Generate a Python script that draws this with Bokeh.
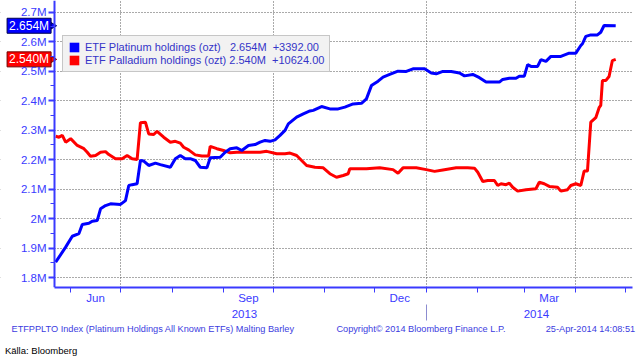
import math
import pandas as pd
from bokeh.plotting import figure
from bokeh.models import (ColumnDataSource, FixedTicker, CustomJSTickFormatter, LinearAxis,
                          Legend, LegendItem, Range1d, Grid)
from bokeh.core.properties import value
from bokeh.embed import file_html
from bokeh.resources import INLINE

# ---------------- data (millions of troy ounces) ----------------
plat_dates = ["2013-05-23", "2013-05-29", "2013-06-02", "2013-06-06", "2013-06-08", "2013-06-12",
              "2013-06-14", "2013-06-17", "2013-06-19", "2013-06-22", "2013-06-25", "2013-07-01",
              "2013-07-04", "2013-07-06", "2013-07-08", "2013-07-11", "2013-07-13", "2013-07-15",
              "2013-07-18", "2013-07-22", "2013-07-25", "2013-07-31", "2013-08-03", "2013-08-06",
              "2013-08-09", "2013-08-12", "2013-08-15", "2013-08-18", "2013-08-22", "2013-08-24",
              "2013-08-30", "2013-09-02", "2013-09-05", "2013-09-09", "2013-09-12", "2013-09-16",
              "2013-09-20", "2013-09-23", "2013-09-26", "2013-09-29", "2013-10-02", "2013-10-05",
              "2013-10-08", "2013-10-10", "2013-10-15", "2013-10-19", "2013-10-23", "2013-10-25",
              "2013-10-30", "2013-11-04", "2013-11-09", "2013-11-13", "2013-11-18", "2013-11-23",
              "2013-11-26", "2013-11-29", "2013-12-03", "2013-12-06", "2013-12-10", "2013-12-15",
              "2013-12-20", "2013-12-24", "2013-12-31", "2014-01-04", "2014-01-07", "2014-01-11",
              "2014-01-16", "2014-01-21", "2014-01-24", "2014-01-29", "2014-02-02", "2014-02-06",
              "2014-02-14", "2014-02-16", "2014-02-20", "2014-02-24", "2014-02-26", "2014-03-01",
              "2014-03-03", "2014-03-05", "2014-03-09", "2014-03-11", "2014-03-14", "2014-03-17",
              "2014-03-23", "2014-03-28", "2014-04-01", "2014-04-04", "2014-04-05", "2014-04-07",
              "2014-04-10", "2014-04-14", "2014-04-16", "2014-04-18", "2014-04-25"]
plat_vals = [1.852, 1.903, 1.940, 1.949, 1.980, 1.984,
             1.991, 1.993, 2.033, 2.044, 2.050, 2.048,
             2.061, 2.112, 2.115, 2.118, 2.197, 2.195,
             2.180, 2.188, 2.183, 2.174, 2.203, 2.214,
             2.203, 2.203, 2.197, 2.174, 2.172, 2.206,
             2.208, 2.225, 2.237, 2.240, 2.231, 2.248,
             2.251, 2.259, 2.265, 2.262, 2.267, 2.282,
             2.299, 2.321, 2.344, 2.355, 2.365, 2.367,
             2.380, 2.372, 2.372, 2.378, 2.389, 2.391,
             2.406, 2.451, 2.466, 2.480, 2.489, 2.500,
             2.499, 2.508, 2.508, 2.494, 2.491, 2.499,
             2.499, 2.494, 2.484, 2.489, 2.478, 2.463,
             2.463, 2.472, 2.476, 2.476, 2.483, 2.483,
             2.522, 2.516, 2.516, 2.539, 2.533, 2.550,
             2.550, 2.561, 2.561, 2.587, 2.593, 2.618,
             2.623, 2.623, 2.632, 2.655, 2.654]

pall_dates = ["2013-05-23", "2013-05-25", "2013-05-27", "2013-05-29", "2013-06-01", "2013-06-05",
              "2013-06-09", "2013-06-11", "2013-06-13", "2013-06-16", "2013-06-19", "2013-06-22",
              "2013-06-24", "2013-06-28", "2013-07-02", "2013-07-05", "2013-07-08", "2013-07-11",
              "2013-07-13", "2013-07-16", "2013-07-18", "2013-07-21", "2013-07-23", "2013-07-27",
              "2013-07-31", "2013-08-03", "2013-08-06", "2013-08-08", "2013-08-11", "2013-08-15",
              "2013-08-19", "2013-08-23", "2013-08-24", "2013-08-28", "2013-09-01", "2013-09-05",
              "2013-09-09", "2013-09-23", "2013-09-27", "2013-10-03", "2013-10-08", "2013-10-11",
              "2013-10-15", "2013-10-18", "2013-10-21", "2013-10-26", "2013-10-31", "2013-11-04",
              "2013-11-08", "2013-11-12", "2013-11-15", "2013-11-16", "2013-11-26", "2013-12-04",
              "2013-12-12", "2013-12-15", "2013-12-18", "2013-12-26", "2014-01-01", "2014-01-06",
              "2014-01-11", "2014-01-19", "2014-01-26", "2014-01-30", "2014-02-01", "2014-02-04",
              "2014-02-07", "2014-02-11", "2014-02-13", "2014-02-15", "2014-02-18", "2014-02-20",
              "2014-02-22", "2014-02-25", "2014-03-02", "2014-03-08", "2014-03-10", "2014-03-13",
              "2014-03-16", "2014-03-21", "2014-03-23", "2014-03-27", "2014-03-29", "2014-04-01",
              "2014-04-04", "2014-04-06", "2014-04-08", "2014-04-10", "2014-04-13", "2014-04-15",
              "2014-04-16", "2014-04-17", "2014-04-19", "2014-04-21", "2014-04-23", "2014-04-25"]
pall_vals = [2.279, 2.276, 2.282, 2.259, 2.271, 2.248,
             2.237, 2.225, 2.211, 2.214, 2.225, 2.227,
             2.217, 2.203, 2.203, 2.214, 2.203, 2.200,
             2.325, 2.327, 2.287, 2.285, 2.296, 2.276,
             2.259, 2.262, 2.256, 2.242, 2.233, 2.216,
             2.212, 2.212, 2.245, 2.237, 2.231, 2.223,
             2.225, 2.225, 2.228, 2.220, 2.220, 2.222,
             2.214, 2.197, 2.180, 2.174, 2.172, 2.152,
             2.140, 2.146, 2.152, 2.169, 2.169, 2.172,
             2.166, 2.154, 2.172, 2.172, 2.166, 2.160,
             2.165, 2.172, 2.172, 2.171, 2.157, 2.126,
             2.129, 2.129, 2.112, 2.118, 2.115, 2.120,
             2.106, 2.093, 2.098, 2.101, 2.123, 2.118,
             2.109, 2.106, 2.093, 2.098, 2.112, 2.118,
             2.112, 2.161, 2.161, 2.327, 2.342, 2.376,
             2.384, 2.468, 2.468, 2.482, 2.536, 2.540]

series_names = ["ETF Platinum holdings (ozt)", "ETF Palladium holdings (ozt)"]
last_values = ["2.654M", "2.540M"]
changes = ["+3392.00", "+10624.00"]

y_ticks = [1.8, 1.9, 2.0, 2.1, 2.2, 2.3, 2.4, 2.5, 2.6, 2.7]
y_minor = [1.85, 1.95, 2.05, 2.15, 2.25, 2.35, 2.45, 2.55, 2.65]
month_tick_dates = ["2013-06-01", "2013-07-01", "2013-08-01", "2013-09-01", "2013-10-01",
                    "2013-11-01", "2013-12-01", "2014-01-01", "2014-02-01", "2014-03-01",
                    "2014-04-01", "2014-05-01"]
month_label_dates = ["2013-06-16", "2013-09-16", "2013-12-16", "2014-03-16"]
month_labels = ["Jun", "Sep", "Dec", "Mar"]
quarter_dates = ["2013-07-01", "2013-10-01", "2014-01-01", "2014-04-01"]
year_label_dates = ["2013-09-13 14:00", "2014-03-08 07:00"]
year_labels = ["2013", "2014"]
year_break = ["2014-01-01"]

footer_texts = ["ETFPPLTO Index (Platinum Holdings All Known ETFs) Malting Barley",
                "Copyright\u00a9 2014 Bloomberg Finance L.P.",
                "25-Apr-2014 14:08:51"]
footer_dates = ["2013-07-20 14:00", "2013-12-28 19:00", "2014-04-09 19:00"]
source_note = ["K\u00e4lla: Bloomberg"]
source_note_date = ["2013-05-14 05:00"]

# ---------------- layout constants ----------------
X_START, X_END = "2013-04-19 19:10", "2014-05-05 02:25"
AXIS_AT = "2013-05-22 06:40"          # where the value axis stands
TAG_AT = "2013-05-07 00:00"           # centre of the last-value tags
TAG_TIP = "2013-05-19 18:00"          # arrow of the tags
Y0, Y1 = 1.7661, 2.7397


def ms(d):
    return float(pd.Timestamp(d).value // 10**6)


def fmt(ticks, labels):
    return CustomJSTickFormatter(args=dict(t=ticks, l=labels),
                                 code="const i = t.indexOf(tick); return i >= 0 ? l[i] : '';")


BLUE = "#0000ff"
RED = "#ff0000"
AXC = "#3a3aff"
TXT = "#3c3ce0"
FONT = "Liberation Sans"

p = figure(width=640, height=358, output_backend="svg", toolbar_location=None,
           x_range=Range1d(ms(X_START), ms(X_END)), y_range=Range1d(Y0, Y1),
           x_axis_type=None, y_axis_type=None,
           min_border_left=0, min_border_right=8, min_border_top=0, min_border_bottom=71)
p.outline_line_color = None
p.background_fill_color = "white"
p.border_fill_color = "white"
p.xgrid.visible = False
p.ygrid.visible = False

# grids
p.add_layout(Grid(dimension=1, ticker=FixedTicker(ticks=y_ticks), grid_line_color="#555555",
                  grid_line_dash="1 2", grid_line_width=1))
p.add_layout(Grid(dimension=0, ticker=FixedTicker(ticks=[ms(d) for d in quarter_dates]),
                  grid_line_color="#555555", grid_line_dash="1 2", grid_line_width=1))

# white margin left of the value axis (hides grid there)
p.quad(left=[ms(X_START)], right=[ms(AXIS_AT)], bottom=[Y0], top=[Y1],
       fill_color="white", line_color=None)

# value axis, standing at the start of the data period
yax = LinearAxis(ticker=FixedTicker(ticks=y_ticks, minor_ticks=y_minor),
                 formatter=CustomJSTickFormatter(code="return Number(tick.toFixed(1)) + 'M';"),
                 fixed_location=ms(AXIS_AT))
yax.axis_line_color = AXC
yax.axis_line_width = 2
yax.major_tick_line_color = AXC
yax.major_tick_line_width = 2
yax.major_tick_out = 6
yax.major_tick_in = 0
yax.minor_tick_line_color = AXC
yax.minor_tick_out = 4
yax.minor_tick_in = 0
yax.major_label_text_color = AXC
yax.major_label_text_font = FONT
yax.major_label_text_font_size = "11.5px"
yax.major_label_standoff = 2
p.add_layout(yax, "left")

# month axis
mticks = [ms(d) for d in month_label_dates]
xax = LinearAxis(ticker=FixedTicker(ticks=mticks, minor_ticks=[ms(d) for d in month_tick_dates]),
                 formatter=fmt(mticks, month_labels), bounds=(ms(AXIS_AT), ms(X_END)))
xax.axis_line_color = AXC
xax.axis_line_width = 2
xax.major_tick_line_color = None
xax.major_tick_out = 0
xax.major_tick_in = 0
xax.minor_tick_line_color = AXC
xax.minor_tick_out = 5
xax.minor_tick_in = 0
xax.major_label_text_color = AXC
xax.major_label_text_font = FONT
xax.major_label_text_font_size = "11.5px"
xax.major_label_standoff = -1
p.add_layout(xax, "below")


def text_axis(dates, labels, size, color, standoff):
    t = [ms(d) for d in dates]
    ax = LinearAxis(ticker=FixedTicker(ticks=t, minor_ticks=[]), formatter=fmt(t, labels))
    ax.axis_line_color = None
    ax.major_tick_line_color = None
    ax.minor_tick_line_color = None
    ax.major_tick_out = 0
    ax.major_tick_in = 0
    ax.major_label_text_color = color
    ax.major_label_text_font = FONT
    ax.major_label_text_font_size = size
    ax.major_label_standoff = standoff
    p.add_layout(ax, "below")
    return ax


text_axis(year_label_dates, year_labels, "11.5px", AXC, 3)

# year separator (a tick reaching up through the year row)
sep = text_axis(year_break, [""], "0px", AXC, 0)
sep.major_tick_line_color = "#8c8cd0"
sep.major_tick_line_width = 1
sep.major_tick_in = 16

text_axis(footer_dates, footer_texts, "9.2px", TXT, 3)
text_axis(source_note_date, source_note, "9.5px", "black", 8)

# lines
src_pt = ColumnDataSource(dict(x=[ms(d) for d in plat_dates], y=plat_vals))
src_pd = ColumnDataSource(dict(x=[ms(d) for d in pall_dates], y=pall_vals))
p.line("x", "y", source=src_pd, line_color=RED, line_width=3)
p.line("x", "y", source=src_pt, line_color=BLUE, line_width=3)

# last-value tags
for txt, yv, col, bcol in [(last_values[0], plat_vals[-1], BLUE, "#000050"),
                           (last_values[1], pall_vals[-1], RED, "#700000")]:
    p.scatter(x=[ms(TAG_TIP)], y=[yv], marker="triangle", size=11, angle=-math.pi / 2,
              fill_color=col, line_color=bcol, line_width=1)
    p.rect(x=[ms(TAG_AT)], y=[yv], width=44, height=15, width_units="screen",
           height_units="screen", fill_color=col, line_color=bcol, line_width=1)
    p.text(x=[ms(TAG_AT)], y=[yv], text=[txt], text_color="white", text_font=value(FONT),
           text_font_size="12px", text_align="center", text_baseline="middle")

# legend (square swatches from hidden renderers on the last points)
sq_pt = p.quad(left=[ms(plat_dates[-1])], right=[ms(plat_dates[-1])], top=[plat_vals[-1]],
               bottom=[plat_vals[-1]], fill_color=BLUE, line_color=None, visible=False)
sq_pd = p.quad(left=[ms(pall_dates[-1])], right=[ms(pall_dates[-1])], top=[pall_vals[-1]],
               bottom=[pall_vals[-1]], fill_color=RED, line_color=None, visible=False)
NB = "\u00a0"
labels = [series_names[0] + NB * 3 + last_values[0] + NB * 2 + changes[0],
          series_names[1] + NB * 1 + last_values[1] + NB * 2 + changes[1]]
legend = Legend(items=[LegendItem(label=labels[0], renderers=[sq_pt]),
                       LegendItem(label=labels[1], renderers=[sq_pd])],
                location=(62, 215), orientation="vertical",
                glyph_width=12, glyph_height=12, label_height=12, label_width=231,
                label_standoff=5, spacing=1, padding=5, margin=0,
                inactive_fill_alpha=0,
                background_fill_color="#f2f2f2", background_fill_alpha=1,
                border_line_color="#9a9a9a", border_line_width=1,
                label_text_color="#3535c8", label_text_font=FONT, label_text_font_size="11px")
p.add_layout(legend, "center")

open("out.html", "w").write(file_html(p, INLINE))
